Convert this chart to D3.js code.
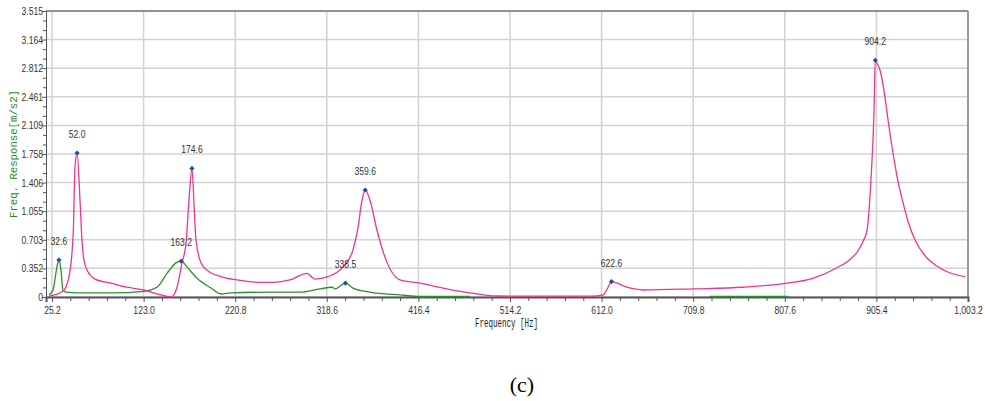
<!DOCTYPE html>
<html>
<head>
<meta charset="utf-8">
<script src="https://cdn.jsdelivr.net/npm/d3@7"></script>
<style>
  body { margin: 0; background: #fff; }
  .tick text, .peak-label { font-family: Arial, "Liberation Sans", sans-serif; font-size: 11px; fill: #333; }
</style>
</head>
<body>
<div id="chart"></div>
<script>
// x tick values (Hz) and y tick values (m/s2)
var xTicks = [25.2, 123.0, 220.8, 318.6, 416.4, 514.2, 612.0, 709.8, 807.6, 905.4, 1003.2];
var yTicks = [0, 0.352, 0.703, 1.055, 1.406, 1.758, 2.109, 2.461, 2.812, 3.164, 3.515];

// pink response curve: frequency / amplitude
var pinkFreq = [22.0, 36.9, 43.4, 47.9, 49.8, 52.0, 55.1, 57.2, 59.4, 63.6, 71.1, 88.2, 105.3, 123.4, 141.6, 152.3,
    158.7, 164.0, 168.3, 171.5, 174.6, 177.0, 178.9, 184.3, 190.7, 205.6, 222.7, 248.3, 262.2, 279.3, 297.5, 306.0,
    319.9, 335.9, 346.6, 351.9, 356.2, 359.6, 364.7, 372.2, 380.7, 396.8, 418.1, 442.7, 471.5, 500.3, 601.8, 613.6,
    618.9, 622.6, 639.1, 656.2, 709.6, 763.0, 810.0, 837.7, 863.3, 876.0, 884.7, 891.0, 895.4, 899.6, 902.8, 904.2,
    906.5, 909.2, 914.5, 918.5, 923.1, 928.0, 933.8, 940.0, 946.6, 959.4, 970.0, 980.8, 1000.0];
var pinkAmp = [0.01, 0.07, 0.25, 0.79, 1.6, 1.77, 1.19, 0.70, 0.45, 0.31, 0.22, 0.17, 0.12, 0.086, 0.025, 0.0,
    0.12, 0.42, 0.66, 1.2, 1.58, 1.1, 0.70, 0.42, 0.33, 0.25, 0.21, 0.18, 0.18, 0.21, 0.29, 0.22,
    0.25, 0.37, 0.58, 0.85, 1.19, 1.315, 1.19, 0.82, 0.49, 0.21, 0.17, 0.11, 0.05, 0.012, 0.01, 0.025,
    0.12, 0.19, 0.12, 0.086, 0.10, 0.12, 0.17, 0.23, 0.36, 0.45, 0.55, 0.68, 0.82, 1.44, 2.26, 2.91,
    2.86, 2.79, 2.46, 2.12, 1.77, 1.45, 1.16, 0.90, 0.70, 0.48, 0.38, 0.31, 0.25];

// green response curve (null = not drawn)
var greenFreq = [22.0, 26.3, 30.5, 32.6, 34.8, 36.9, 40.1, 51.9, 88.2, 123.4, 137.3, 148.0, 157.6, 163.2, 169.3, 180.0,
    195.0, 205.6, 216.3, 262.2, 290.0, 311.3, 324.2, 327.4, 338.5, 346.6, 364.7, 396.8, 420.0, 471.5, 600.0, 727.7, 811.0];
var greenAmp = [0.025, 0.086, 0.37, 0.455, 0.33, 0.086, 0.06, 0.05, 0.05, 0.07, 0.12, 0.29, 0.42, 0.44, 0.37, 0.23,
    0.11, 0.037, 0.05, 0.06, 0.06, 0.10, 0.12, 0.10, 0.17, 0.11, 0.06, 0.025, 0.006, 0.006, null, 0.006, 0.006];

// marked peaks
var peakFreq = [32.6, 52.0, 163.2, 174.6, 338.5, 359.6, 622.6, 904.2];
var peakAmp = [0.455, 1.77, 0.44, 1.58, 0.17, 1.315, 0.19, 2.91];

var width = 985, height = 401;
var margin = {top: 11, right: 17, bottom: 104, left: 46};
var narrow = 0.78; // horizontal squeeze to mimic the condensed label font

var svg = d3.select("#chart").append("svg")
    .attr("width", width)
    .attr("height", height);

var x = d3.scaleLinear()
    .domain([18.8, 1003.2])
    .range([margin.left, width - margin.right]);

var y = d3.scaleLinear()
    .domain([0, 3.515])
    .range([height - margin.bottom, margin.top]);

var format = d3.format(",.1f");

// minor tick positions
var xMinor = [], yMinor = [];
for (var i = 0; i < xTicks.length - 1; i++) {
    for (var k = 1; k < 5; k++) xMinor.push(xTicks[i] + (xTicks[i + 1] - xTicks[i]) * k / 5);
}
for (var j = 0; j < yTicks.length - 1; j++) {
    for (var m = 1; m < 3; m++) yMinor.push(yTicks[j] + (yTicks[j + 1] - yTicks[j]) * m / 3);
}

// grid
svg.append("g").selectAll("line")
    .data(xTicks)
    .enter().append("line")
    .attr("x1", function (d) { return x(d); })
    .attr("x2", function (d) { return x(d); })
    .attr("y1", y(3.515))
    .attr("y2", y(0))
    .style("stroke", "#d2d2d2")
    .style("stroke-width", 1.5);

svg.append("g").selectAll("line")
    .data(yTicks)
    .enter().append("line")
    .attr("x1", x.range()[0])
    .attr("x2", x.range()[1])
    .attr("y1", function (d) { return y(d); })
    .attr("y2", function (d) { return y(d); })
    .style("stroke", "#d2d2d2")
    .style("stroke-width", 1.5);

// frame top / right
svg.append("line")
    .attr("x1", x.range()[0]).attr("x2", x.range()[1])
    .attr("y1", y(3.515)).attr("y2", y(3.515))
    .style("stroke", "#444").style("stroke-width", 1);
svg.append("line")
    .attr("x1", x.range()[1]).attr("x2", x.range()[1])
    .attr("y1", y(3.515)).attr("y2", y(0))
    .style("stroke", "#9a9a9a").style("stroke-width", 2);

// axes
var xAxis = svg.append("g")
    .attr("transform", "translate(0," + y(0) + ")")
    .call(d3.axisBottom(x).tickValues(xTicks).tickSize(5).tickPadding(4).tickFormat(format));
svg.append("g")
    .attr("transform", "translate(0," + y(0) + ")")
    .call(d3.axisBottom(x).tickValues(xMinor).tickSize(4).tickFormat(""))
    .select(".domain").remove();

var yAxis = svg.append("g")
    .attr("transform", "translate(" + x.range()[0] + ",0)")
    .call(d3.axisLeft(y).tickValues(yTicks).tickSize(4).tickPadding(1)
        .tickFormat(function (d) { return d === 0 ? "0" : d3.format(".3f")(d); }));
svg.append("g")
    .attr("transform", "translate(" + x.range()[0] + ",0)")
    .call(d3.axisLeft(y).tickValues(yMinor).tickSize(3).tickFormat(""))
    .select(".domain").remove();

svg.selectAll(".domain").style("stroke", "#555");
svg.selectAll(".tick line").style("stroke", "#555");
xAxis.select(".domain").style("stroke-width", 2);

// squeeze tick labels horizontally
xAxis.selectAll(".tick text").attr("transform", "scale(" + narrow + ",1)");
yAxis.selectAll(".tick text")
    .attr("x", -3 / narrow)
    .attr("transform", "scale(" + narrow + ",1)");

// curves
var line = d3.line()
    .defined(function (d) { return d[1] !== null; })
    .curve(d3.curveMonotoneX)
    .x(function (d) { return x(d[0]); })
    .y(function (d) { return y(d[1]); });

var greenData = greenFreq.map(function (f, i) { return [f, greenAmp[i]]; });
var pinkData = pinkFreq.map(function (f, i) { return [f, pinkAmp[i]]; });

svg.append("path")
    .datum(greenData)
    .attr("d", line)
    .style("fill", "none")
    .style("stroke", "#2f8f2f")
    .style("stroke-width", 1.3);

svg.append("path")
    .datum(pinkData)
    .attr("d", line)
    .style("fill", "none")
    .style("stroke", "#f5328c")
    .style("stroke-width", 1.3);

// peak markers + labels
var peaks = svg.append("g").selectAll("g")
    .data(peakFreq.map(function (f, i) { return [f, peakAmp[i]]; }))
    .enter().append("g")
    .attr("transform", function (d) { return "translate(" + x(d[0]) + "," + y(d[1]) + ")"; });

peaks.append("path")
    .attr("d", "M0,-2.6L2.6,0L0,2.6L-2.6,0Z")
    .style("fill", "#1d4f9a");

peaks.append("text")
    .attr("class", "peak-label")
    .attr("y", -15)
    .attr("text-anchor", "middle")
    .attr("transform", "scale(" + narrow + ",1)")
    .text(function (d) { return d[0].toFixed(1); });

// axis titles
svg.append("text")
    .attr("x", 475)
    .attr("y", 327)
    .attr("textLength", 63)
    .attr("lengthAdjust", "spacingAndGlyphs")
    .style("font-family", "'Liberation Mono', 'DejaVu Sans Mono', monospace")
    .style("font-size", "12.5px")
    .style("fill", "#222")
    .text("Frequency [Hz]");

svg.append("text")
    .attr("transform", "translate(17,218) rotate(-90)")
    .attr("textLength", 128)
    .attr("lengthAdjust", "spacingAndGlyphs")
    .style("font-family", "'Liberation Mono', 'DejaVu Sans Mono', monospace")
    .style("font-size", "11px")
    .style("fill", "#2a8a2a")
    .text("Freq.  Response[m/s2]");

svg.append("text")
    .attr("x", 522)
    .attr("y", 392)
    .attr("text-anchor", "middle")
    .style("font-family", "'Liberation Serif', 'Times New Roman', serif")
    .style("font-size", "22px")
    .style("fill", "#000")
    .text("(c)");
</script>
</body>
</html>
